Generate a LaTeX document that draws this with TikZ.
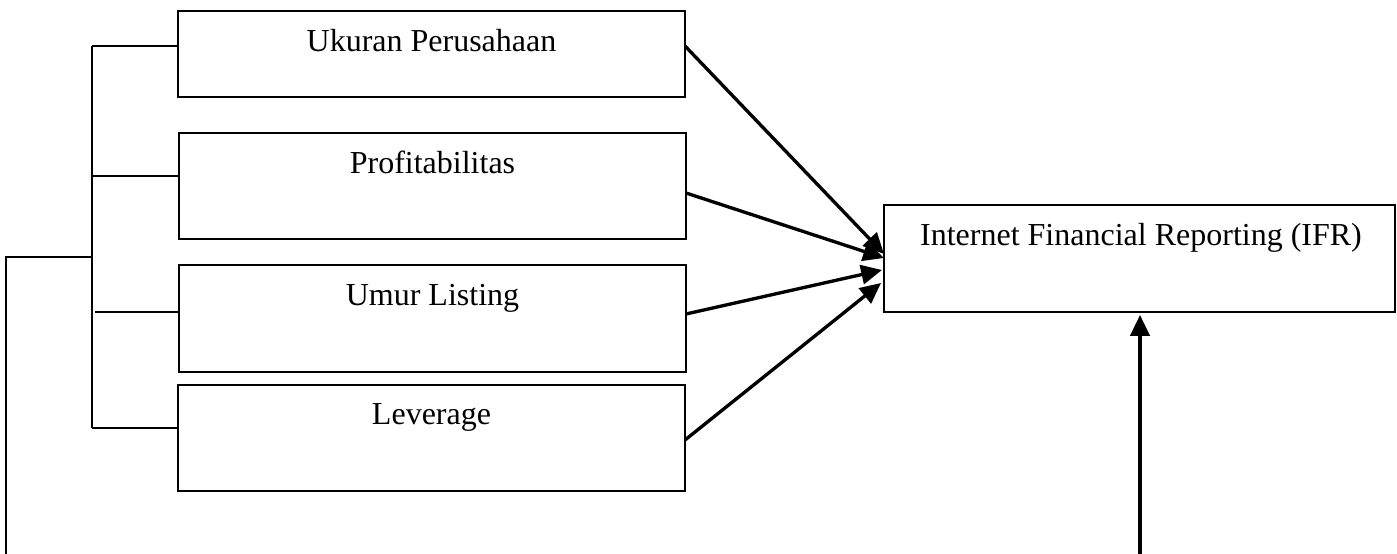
\documentclass[tikz,border=0pt]{standalone}
\usepackage{fontspec}
\setmainfont{Liberation Serif}
\usetikzlibrary{arrows.meta}
\tikzset{
  box/.style={draw, line width=0.6pt, inner sep=0pt, minimum width=190.125pt},
  lbl/.style={anchor=base, inner sep=0pt, font=\fontsize{12}{14}\selectfont},
  tree/.style={line width=0.5pt},
  arr/.style={line width=1.25pt, -{Triangle[length=7.8pt,width=7.2pt]}}
}
\begin{document}
\begin{tikzpicture}[x=0.375pt,y=-0.375pt]
\useasboundingbox (0,0) rectangle (1397,554);
% boxes
\node[box, minimum height=32.25pt] (b1) at (431.5,54) {};
\node[box, minimum height=39.75pt] (b2) at (432.5,186) {};
\node[box, minimum height=40.125pt] (b3) at (432.5,318.5) {};
\node[box, minimum height=39.75pt] (b4) at (431.5,438) {};
\node[box, minimum width=191.625pt, minimum height=40.125pt] (ifr) at (1139.5,258.5) {};
% labels
\node[lbl] (t1) at (431.5,52) {Ukuran Perusahaan};
\node[lbl] (t2) at (432.5,174) {Profitabilitas};
\node[lbl] (t3) at (432.5,306) {Umur Listing};
\node[lbl] (t4) at (431.5,425) {Leverage};
\node[lbl] (t5) at (1141,246) {Internet Financial Reporting (IFR)};
% tree on the left
\coordinate (v1) at (92,46);
\coordinate (v2) at (92,176);
\coordinate (v3) at (95,312);
\coordinate (v4) at (92,428);
\coordinate (j) at (92,257);
\coordinate (j0) at (6,257);
\coordinate (jb) at (6,554);
\draw[tree] (v1) -- (v4);
\draw[tree] (v1) -- (v1 -| b1.west);
\draw[tree] (v2) -- (v2 -| b2.west);
\draw[tree] (v3) -- (v3 -| b3.west);
\draw[tree] (v4) -- (v4 -| b4.west);
\draw[tree] (jb) -- (j0) -- (j);
% arrows
\coordinate (s1) at (685,46);
\coordinate (s2) at (686,193);
\coordinate (s3) at (686,314);
\coordinate (s4) at (685,440);
\coordinate (e1) at (884,254);
\coordinate (e2) at (884,258);
\coordinate (e3) at (882,270);
\coordinate (e4) at (881,283);
\coordinate (vb) at (1140,554);
\coordinate (vt) at (1140,315);
\draw[arr] (s1) -- (e1);
\draw[arr] (s2) -- (e2);
\draw[arr] (s3) -- (e3);
\draw[arr] (s4) -- (e4);
\draw[arr] (vb) -- (vt);
\end{tikzpicture}
\end{document}
